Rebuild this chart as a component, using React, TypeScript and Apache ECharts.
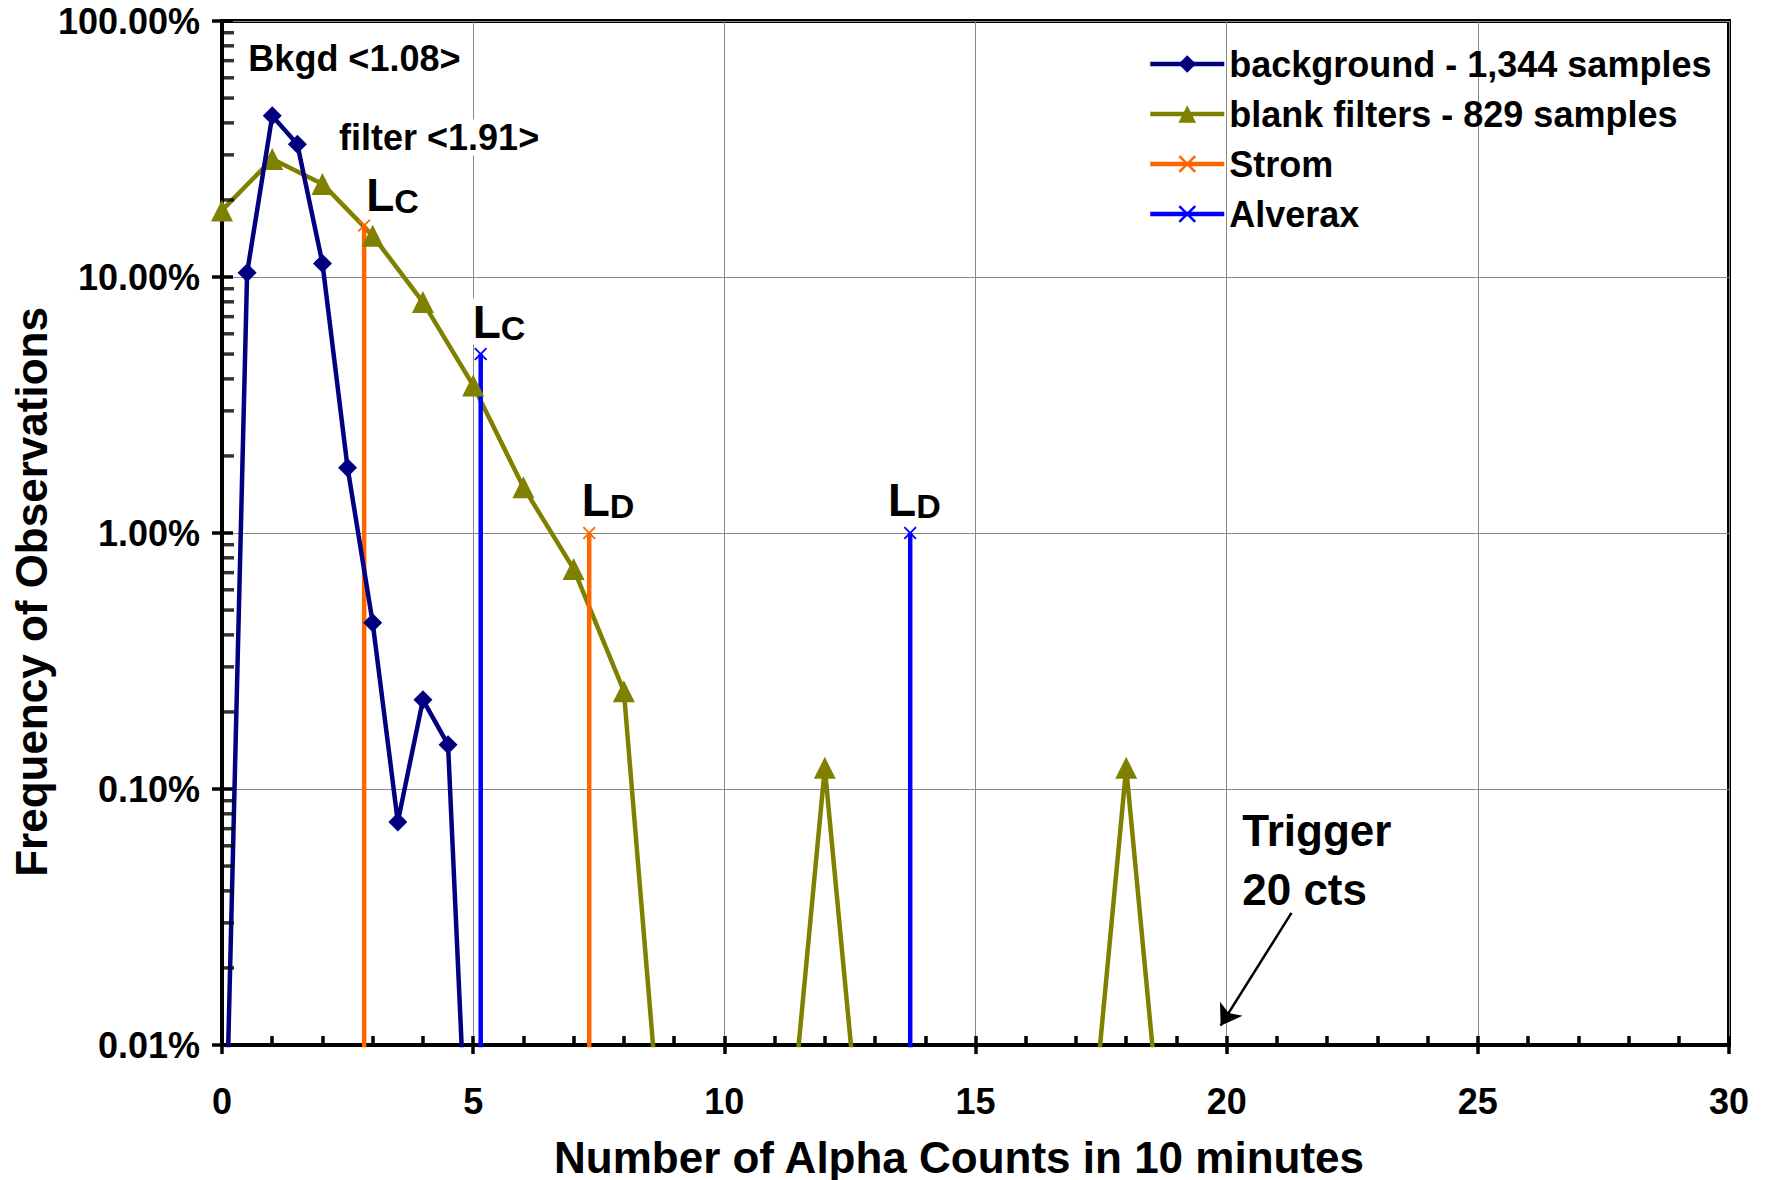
import React, { useEffect, useRef } from "react";
import * as echarts from "echarts";

// ---- data (percent units) ----
const ZERO = 0.001; // zero counts are drawn below the 0.01% floor
const bkgdX = [0, 0.5, 1, 1.5, 2, 2.5, 3, 3.5, 4, 4.5, 5, 5.5, 6];
const bkgdPct = [ZERO, 10.4, 42.6, 33.0, 11.3, 1.8, 0.446, 0.0744, 0.223, 0.149, ZERO, ZERO, ZERO];
const blankX = [0, 1, 2, 3, 4, 5, 6, 7, 8, 9, 10, 11, 12, 13, 14, 15, 16, 17, 18, 19, 20];
const blankPct = [18.2, 28.9, 23.1, 14.5, 7.98, 3.77, 1.51, 0.724, 0.241, ZERO, ZERO, ZERO, 0.121, ZERO, ZERO, ZERO, ZERO, ZERO, 0.121, ZERO, ZERO];
const stromX = [2.83, 7.31];
const stromPct = [15.9, 1.0];
const alveraxX = [5.15, 13.7];
const alveraxPct = [5.0, 1.0];
const yDecades = [0.01, 0.1, 1, 10];
const minorMult = [2, 3, 4, 5, 6, 7, 8, 9];

const seriesNames = [
  "background - 1,344 samples",
  "blank filters - 829 samples",
  "Strom",
  "Alverax",
];

// annotations: [x, y%, text, font size]
const notes: [number, number, string, number][] = [
  [0.515, 71.3, "Bkgd <1.08>", 36],
  [2.32, 35.1, "filter <1.91>", 36],
  [20.3, 0.0688, "Trigger", 44],
  [20.3, 0.0406, "20 cts", 44],
];
const limits: [number, number, string][] = [
  [2.86, 20.9, "C"],
  [4.98, 6.7, "C"],
  [7.15, 1.35, "D"],
  [13.25, 1.35, "D"],
];
const arrowFrom = [21.29, 0.0328];
const arrowTo = [19.88, 0.0119];

const FONT = "'Liberation Sans', Arial, sans-serif";
const XSYM = "path://M0,1L1,0L5,4L9,0L10,1L6,5L10,9L9,10L5,6L1,10L0,9L4,5Z";

export default function App() {
  const ref = useRef<HTMLDivElement>(null);
  useEffect(() => {
    document.body.style.margin = "0";
    const chart = echarts.init(ref.current!, null, { renderer: "svg" });
    const zip = (xs: number[], ys: number[]) => xs.map((x, i) => [x, ys[i]]);
    const minorData: number[][] = [];
    yDecades.forEach((d) => minorMult.forEach((m) => minorData.push([0, d * m])));

    const vline = (name: string, color: string, x: number, y: number) => ({
      name,
      type: "line",
      data: [[x, y], [x, ZERO]],
      lineStyle: { color, width: 4.5 },
      itemStyle: { color },
      symbol: XSYM,
      symbolSize: 13,
      z: 4,
      silent: true,
    });

    const markPts: any[] = notes.map(([x, y, t, fs]) => ({
      coord: [x, y],
      label: {
        formatter: t,
        fontSize: fs,
      },
    }));
    limits.forEach(([x, y, s]) =>
      markPts.push({
        coord: [x, y],
        label: { formatter: `{L|L}{s|${s}}` },
      })
    );

    const axisTickStyle = { color: "#000", width: 3.5 };
    const labelStyle = { fontSize: 36, fontWeight: "bold", color: "#000", fontFamily: FONT };

    chart.setOption({
      animation: false,
      textStyle: { fontFamily: FONT },
      grid: {
        left: 222,
        right: 38,
        top: 21,
        bottom: 135,
        show: true,
        borderColor: "#000",
        borderWidth: 4,
        containLabel: false,
      },
      legend: {
        data: seriesNames,
        orient: "vertical",
        left: 1143,
        top: 41,
        itemWidth: 74,
        itemHeight: 22,
        itemGap: 14,
        selectedMode: false,
        lineStyle: { width: 4.5 },
        textStyle: { ...labelStyle },
      },
      xAxis: [
        {
          type: "value",
          min: 0,
          max: 30,
          interval: 5,
          position: "bottom",
          axisLine: { show: true, lineStyle: { color: "#000", width: 4 } },
          axisTick: { show: true, inside: true, length: 9, lineStyle: axisTickStyle },
          minorTick: { show: true, splitNumber: 5, length: 9, lineStyle: axisTickStyle },
          axisLabel: { ...labelStyle, margin: 38 },
          splitLine: { show: true, lineStyle: { color: "#888", width: 1 } },
          minorSplitLine: { show: false },
        },
        {
          type: "value",
          min: 0,
          max: 30,
          interval: 5,
          position: "bottom",
          axisLine: { show: false },
          axisTick: { show: true, inside: false, length: 9, lineStyle: axisTickStyle },
          axisLabel: { show: false },
          splitLine: { show: false },
        },
      ],
      yAxis: [
        {
          type: "log",
          logBase: 10,
          min: 0.01,
          max: 100,
          position: "left",
          axisLine: { show: true, lineStyle: { color: "#000", width: 4 } },
          axisTick: { show: true, inside: true, length: 11, lineStyle: axisTickStyle },
          axisLabel: {
            ...labelStyle,
            margin: 22,
            formatter: (v: number) => v.toFixed(2) + "%",
          },
          splitLine: { show: true, lineStyle: { color: "#888", width: 1 } },
        },
        {
          type: "log",
          logBase: 10,
          min: 0.01,
          max: 100,
          position: "left",
          axisLine: { show: false },
          axisTick: { show: true, inside: false, length: 10, lineStyle: axisTickStyle },
          axisLabel: { show: false },
          splitLine: { show: false },
        },
      ],
      series: [
        {
          name: seriesNames[0],
          type: "line",
          data: zip(bkgdX, bkgdPct),
          lineStyle: { color: "#000080", width: 4.5 },
          itemStyle: { color: "#000080" },
          symbol: "diamond",
          symbolSize: 19,
          z: 5,
          silent: true,
          markPoint: {
            silent: true,
            symbol: "circle",
            symbolSize: 1,
            itemStyle: { color: "rgba(0,0,0,0)" },
            label: {
              show: true,
              position: "right",
              distance: 0,
              color: "#000",
              fontWeight: "bold",
              fontSize: 36,
              fontFamily: FONT,
              backgroundColor: "#fff",
              rich: {
                L: { fontSize: 46, fontWeight: "bold", lineHeight: 46, color: "#000", fontFamily: FONT },
                s: { fontSize: 34, fontWeight: "bold", lineHeight: 26, verticalAlign: "bottom", color: "#000", fontFamily: FONT },
              },
            },
            data: markPts,
          },
        },
        {
          name: seriesNames[1],
          type: "line",
          data: zip(blankX, blankPct),
          lineStyle: { color: "#808000", width: 4.5 },
          itemStyle: { color: "#808000" },
          symbol: "triangle",
          symbolSize: 22,
          z: 4,
          silent: true,
        },
        vline("Strom", "#FF6600", stromX[0], stromPct[0]),
        vline("Strom", "#FF6600", stromX[1], stromPct[1]),
        vline("Alverax", "#0000FF", alveraxX[0], alveraxPct[0]),
        vline("Alverax", "#0000FF", alveraxX[1], alveraxPct[1]),
        {
          name: "_minor",
          type: "scatter",
          data: minorData,
          symbol: "rect",
          symbolSize: [12, 3.5],
          symbolOffset: [6, 0],
          itemStyle: { color: "#000" },
          clip: false,
          silent: true,
          z: 6,
          markLine: {
            silent: true,
            symbol: ["none", "arrow"],
            symbolSize: 20,
            itemStyle: { color: "#000" },
            lineStyle: { color: "#000", width: 2.5, type: "solid" },
            label: { show: false },
            emphasis: { disabled: true },
            data: [
              [
                { coord: arrowFrom, symbol: "none" },
                { coord: arrowTo, symbol: "arrow", symbolSize: 20 },
              ],
            ],
          },
        },
      ],
      graphic: [
        {
          type: "text",
          x: 31,
          y: 592,
          rotation: Math.PI / 2,
          style: {
            text: "Frequency of Observations",
            font: `bold 44px ${FONT}`,
            fill: "#000",
            align: "center",
            verticalAlign: "middle",
          },
        },
        {
          type: "text",
          x: 959,
          y: 1157,
          style: {
            text: "Number of Alpha Counts in 10 minutes",
            font: `bold 44px ${FONT}`,
            fill: "#000",
            align: "center",
            verticalAlign: "middle",
          },
        },
      ],
    });
    return () => chart.dispose();
  }, []);
  return (
    <div
      ref={ref}
      style={{ position: "fixed", left: 0, top: 0, width: 1767, height: 1180, background: "#fff" }}
    />
  );
}
